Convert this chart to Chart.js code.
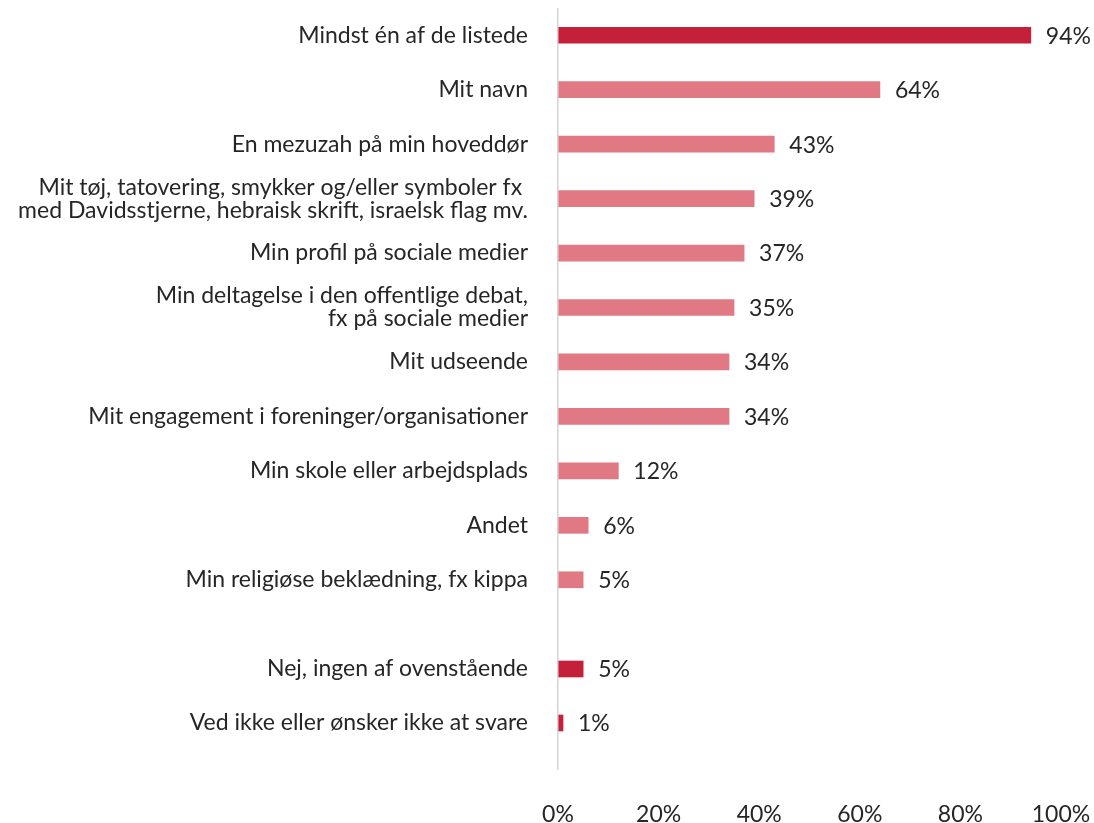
<!DOCTYPE html>
<html>
<head>
<meta charset="utf-8">
<script src="https://cdn.jsdelivr.net/npm/chart.js@4.4.1/dist/chart.umd.min.js"></script>
<style>
  html, body { margin: 0; padding: 0; background: #ffffff; }
  body { width: 1094px; height: 823px; position: relative; overflow: hidden; }
  #wrapA { position: absolute; left: 0; top: 0; width: 1094px; height: 642px; }
  #wrapB { position: absolute; left: 0; top: 642px; width: 1094px; height: 181px; }
</style>
</head>
<body>
<div id="wrapA"><canvas id="chartA"></canvas></div>
<div id="wrapB"><canvas id="chartB"></canvas></div>
<script>
const categoriesTop = [
  "Mindst én af de listede",
  "Mit navn",
  "En mezuzah på min hoveddør",
  ["Mit tøj, tatovering, smykker og/eller symboler fx ", "med Davidsstjerne, hebraisk skrift, israelsk flag mv."],
  "Min profil på sociale medier",
  ["Min deltagelse i den offentlige debat,", "fx på sociale medier"],
  "Mit udseende",
  "Mit engagement i foreninger/organisationer",
  "Min skole eller arbejdsplads",
  "Andet",
  "Min religiøse beklædning, fx kippa"
];
const valuesTop = [94, 64, 43, 39, 37, 35, 34, 34, 12, 6, 5];

const categoriesBottom = [
  "Nej, ingen af ovenstående",
  "Ved ikke eller ønsker ikke at svare"
];
const valuesBottom = [5, 1];

const xTicks = [0, 20, 40, 60, 80, 100];

const DARK = "#C5203A";
const PINK = "#E07983";
const TEXT = "#262626";
const AXIS_LINE = "#d4d4d4";
const FONT = "Lato, 'Open Sans', sans-serif";
const FONT_SIZE = 23;

const valueLabels = {
  id: "valueLabels",
  afterDatasetsDraw(chart) {
    const ctx = chart.ctx;
    ctx.save();
    ctx.font = FONT_SIZE + "px " + FONT;
    ctx.fillStyle = TEXT;
    ctx.textAlign = "left";
    ctx.textBaseline = "middle";
    chart.data.datasets.forEach((ds, di) => {
      chart.getDatasetMeta(di).data.forEach((bar, i) => {
        ctx.fillText(ds.data[i] + "%", bar.x + 15, bar.y + 1);
      });
    });
    ctx.restore();
  }
};

function makeChart(id, labels, values, colors, showTicks, tickLen, padTop, xHeight) {
  return new Chart(document.getElementById(id), {
    type: "bar",
    data: {
      labels: labels,
      datasets: [{
        data: values,
        backgroundColor: colors,
        barThickness: 16,
        borderWidth: 0
      }]
    },
    plugins: [valueLabels],
    options: {
      indexAxis: "y",
      responsive: true,
      maintainAspectRatio: false,
      animation: false,
      layout: { padding: { left: 0, right: 33, top: padTop, bottom: 0 } },
      plugins: { legend: { display: false }, tooltip: { enabled: false } },
      scales: {
        x: {
          min: 0,
          max: 100,
          afterBuildTicks(scale) { scale.ticks = xTicks.map(v => ({ value: v })); },
          afterFit(scale) {
            scale.height = xHeight;
            scale.paddingLeft = 0;
            scale.paddingRight = 0;
          },
          border: { display: false },
          grid: {
            drawOnChartArea: true,
            drawTicks: true,
            tickLength: tickLen,
            lineWidth: 1.5,
            color: (c) => (c.tick && c.tick.value === 0) ? AXIS_LINE : "rgba(0,0,0,0)"
          },
          ticks: {
            display: showTicks,
            padding: 33,
            color: TEXT,
            font: { family: FONT, size: FONT_SIZE, lineHeight: 1.0 },
            callback: (v) => v + "%"
          }
        },
        y: {
          afterFit(scale) {
            scale.width = 558;
            scale.paddingTop = 0;
            scale.paddingBottom = 0;
          },
          border: { display: false },
          grid: { display: false, drawTicks: false },
          ticks: {
            padding: 30,
            color: TEXT,
            font: { family: FONT, size: FONT_SIZE, lineHeight: 1.0 }
          }
        }
      }
    }
  });
}

makeChart("chartA", categoriesTop, valuesTop,
  valuesTop.map((v, i) => i === 0 ? DARK : PINK), false, 35, 8, 35);
makeChart("chartB", categoriesBottom, valuesBottom,
  valuesBottom.map(() => DARK), true, 20, 0, 73);
</script>
</body>
</html>
